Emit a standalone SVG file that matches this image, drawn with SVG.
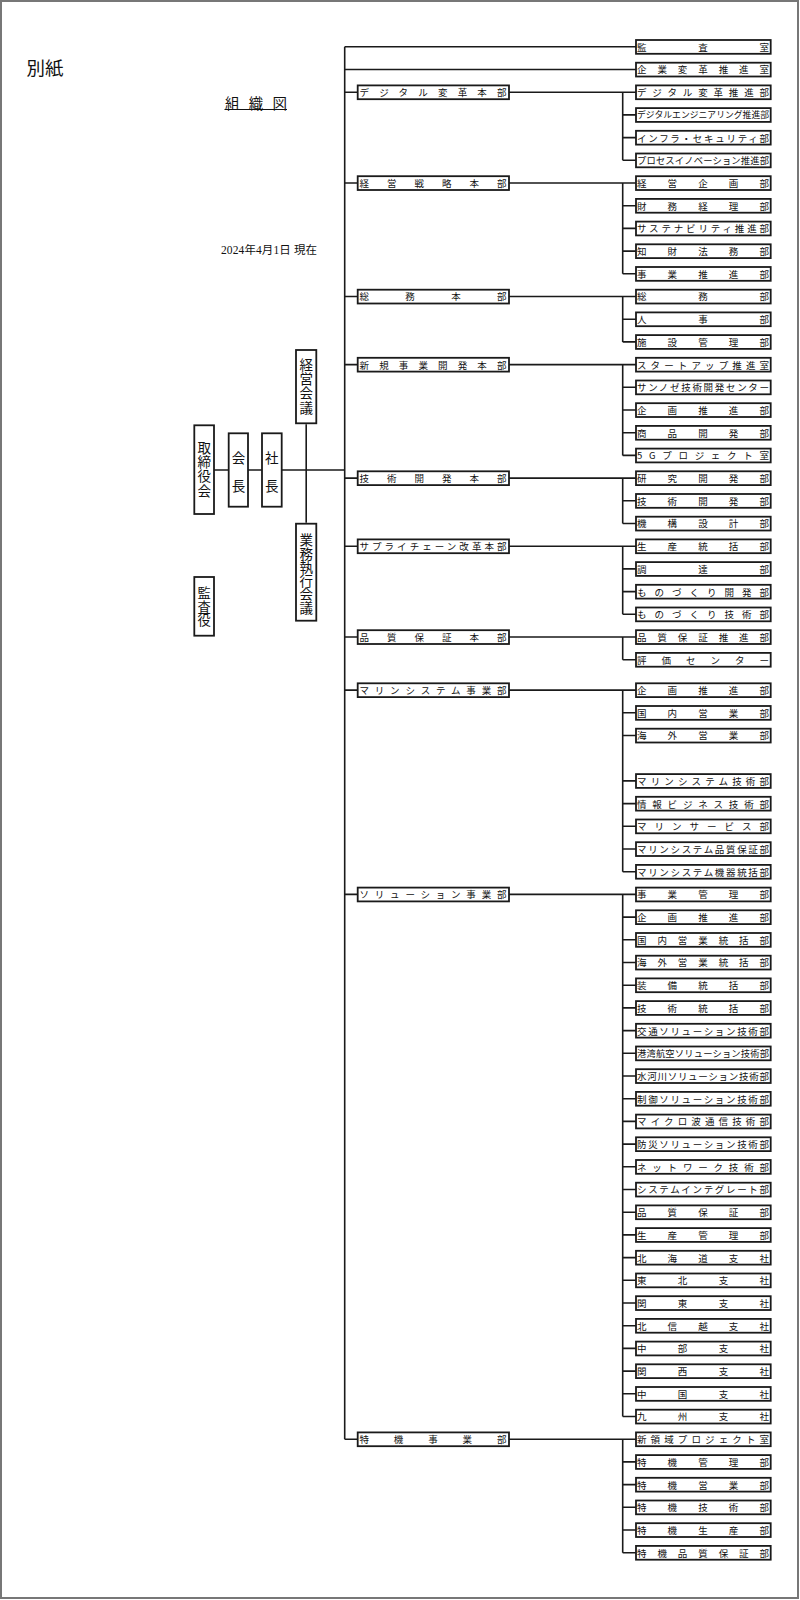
<svg xmlns="http://www.w3.org/2000/svg" width="800" height="1600" viewBox="0 0 800 1600">
<style>
.bg{fill:#fff;stroke:#777;stroke-width:2}
.rb,.lb,.vb{fill:#fff;stroke:#1a1a1a;stroke-width:1.8}
.rt,.lt{font-family:"Noto Sans CJK JP",sans-serif;font-size:9.5px;fill:#111;dominant-baseline:central}
.vt{font-family:"Noto Sans CJK JP",sans-serif;font-size:13.5px;fill:#111;text-anchor:middle;writing-mode:vertical-rl}
.ct{font-family:"Noto Sans CJK JP",sans-serif;font-size:13.5px;fill:#111;text-anchor:middle;dominant-baseline:central}
.ln{fill:none;stroke:#1a1a1a;stroke-width:1.6}
.hd{font-family:"Noto Sans CJK JP",sans-serif;fill:#111}
</style>
<rect class="bg" x="1" y="1" width="797" height="1597"/>
<g id="header">
<text class="hd" x="26.5" y="66.7" font-size="18.5" dominant-baseline="central">別紙</text>
<text class="hd" x="225" y="102.5" font-size="14.5" dominant-baseline="central" textLength="62">組織図</text>
<line x1="224.5" y1="109.5" x2="287" y2="109.5" stroke="#111" stroke-width="1"/>
<text x="221" y="250" font-family="Liberation Serif, Noto Sans CJK JP, serif" font-size="11.5" fill="#111" dominant-baseline="central" textLength="96">2024年4月1日 現在</text>
</g>
<g id="connectors" class="ln">
<path d="M344.7 46.8V1439.2M344.7 46.8H636M344.7 69.5H636"/>
<path d="M344.7 92.2H357.7M509 92.2H636M344.7 183H357.7M509 183H636M344.7 296.5H357.7M509 296.5H636M344.7 364.6H357.7M509 364.6H636M344.7 478.1H357.7M509 478.1H636M344.7 546.2H357.7M509 546.2H636M344.7 637H357.7M509 637H636M344.7 690.1H357.7M509 690.1H636M344.7 894.4H357.7M509 894.4H636M344.7 1439.2H357.7M509 1439.2H636"/>
<path d="M622.7 92.2V160.3M622.7 114.9h13.3M622.7 137.6h13.3M622.7 160.3h13.3"/>
<path d="M622.7 183V273.8M622.7 205.7h13.3M622.7 228.4h13.3M622.7 251.1h13.3M622.7 273.8h13.3"/>
<path d="M622.7 296.5V341.9M622.7 319.2h13.3M622.7 341.9h13.3"/>
<path d="M622.7 364.6V455.4M622.7 387.3h13.3M622.7 410h13.3M622.7 432.7h13.3M622.7 455.4h13.3"/>
<path d="M622.7 478.1V523.5M622.7 500.8h13.3M622.7 523.5h13.3"/>
<path d="M622.7 546.2V614.3M622.7 568.9h13.3M622.7 591.6h13.3M622.7 614.3h13.3"/>
<path d="M622.7 637V659.7M622.7 659.7h13.3"/>
<path d="M622.7 690.1V871.7M622.7 712.8h13.3M622.7 735.5h13.3M622.7 780.9h13.3M622.7 803.6h13.3M622.7 826.3h13.3M622.7 849h13.3M622.7 871.7h13.3"/>
<path d="M622.7 894.4V1416.5M622.7 917.1h13.3M622.7 939.8h13.3M622.7 962.5h13.3M622.7 985.2h13.3M622.7 1007.9h13.3M622.7 1030.6h13.3M622.7 1053.3h13.3M622.7 1076h13.3M622.7 1098.7h13.3M622.7 1121.4h13.3M622.7 1144.1h13.3M622.7 1166.8h13.3M622.7 1189.5h13.3M622.7 1212.2h13.3M622.7 1234.9h13.3M622.7 1257.6h13.3M622.7 1280.3h13.3M622.7 1303h13.3M622.7 1325.7h13.3M622.7 1348.4h13.3M622.7 1371.1h13.3M622.7 1393.8h13.3M622.7 1416.5h13.3"/>
<path d="M622.7 1439.2V1552.7M622.7 1461.9h13.3M622.7 1484.6h13.3M622.7 1507.3h13.3M622.7 1530h13.3M622.7 1552.7h13.3"/>
<path d="M214 470H344.7M306.2 424.3V522.7"/>
</g>
<g id="torishimariyakukai"><rect class="vb" x="194.3" y="425.3" width="19.7" height="88.7"/><text class="vt" x="204.2" y="469.6" letter-spacing="0.7">取締役会</text></g>
<g id="kaicho"><rect class="vb" x="228.7" y="433.3" width="19.3" height="73.4"/><text class="ct" x="238.4" y="456.7">会</text><text class="ct" x="238.4" y="484.5">長</text></g>
<g id="shacho"><rect class="vb" x="262" y="433.3" width="19.7" height="73.4"/><text class="ct" x="271.8" y="456.7">社</text><text class="ct" x="271.8" y="484.5">長</text></g>
<g id="keiei-kaigi"><rect class="vb" x="296" y="350" width="20.3" height="73.3"/><text class="vt" x="306.2" y="386.6" letter-spacing="0.6">経営会議</text></g>
<g id="gyomu-shikko-kaigi"><rect class="vb" x="296" y="523.7" width="20.3" height="97"/><text class="vt" x="306.2" y="573.9">業務執行会議</text></g>
<g id="kansayaku"><rect class="vb" x="194.3" y="577" width="19.7" height="58.7"/><text class="vt" x="204.2" y="606.7" style="font-size:13.3px">監査役</text></g>
<g id="h1" transform="translate(357.7,84.4)"><rect class="lb" y="1" width="151.3" height="13.8"/><text class="lt" x="1.8" y="7.8" textLength="147">デジタル変革本部</text></g>
<g id="h2" transform="translate(357.7,175.2)"><rect class="lb" y="1" width="151.3" height="13.8"/><text class="lt" x="1.8" y="7.8" textLength="147">経営戦略本部</text></g>
<g id="h3" transform="translate(357.7,288.7)"><rect class="lb" y="1" width="151.3" height="13.8"/><text class="lt" x="1.8" y="7.8" textLength="147">総務本部</text></g>
<g id="h4" transform="translate(357.7,356.8)"><rect class="lb" y="1" width="151.3" height="13.8"/><text class="lt" x="1.8" y="7.8" textLength="147">新規事業開発本部</text></g>
<g id="h5" transform="translate(357.7,470.3)"><rect class="lb" y="1" width="151.3" height="13.8"/><text class="lt" x="1.8" y="7.8" textLength="147">技術開発本部</text></g>
<g id="h6" transform="translate(357.7,538.4)"><rect class="lb" y="1" width="151.3" height="13.8"/><text class="lt" x="1.8" y="7.8" textLength="147">サプライチェーン改革本部</text></g>
<g id="h7" transform="translate(357.7,629.2)"><rect class="lb" y="1" width="151.3" height="13.8"/><text class="lt" x="1.8" y="7.8" textLength="147">品質保証本部</text></g>
<g id="h8" transform="translate(357.7,682.3)"><rect class="lb" y="1" width="151.3" height="13.8"/><text class="lt" x="1.8" y="7.8" textLength="147">マリンシステム事業部</text></g>
<g id="h9" transform="translate(357.7,886.6)"><rect class="lb" y="1" width="151.3" height="13.8"/><text class="lt" x="1.8" y="7.8" textLength="147">ソリューション事業部</text></g>
<g id="h10" transform="translate(357.7,1431.4)"><rect class="lb" y="1" width="151.3" height="13.8"/><text class="lt" x="1.8" y="7.8" textLength="147">特機事業部</text></g>
<g id="r0" transform="translate(636,39)"><rect class="rb" y="1" width="134.7" height="13.8"/><text class="rt" x="1" y="7.8" textLength="132">監査室</text></g>
<g id="r1" transform="translate(636,61.7)"><rect class="rb" y="1" width="134.7" height="13.8"/><text class="rt" x="1" y="7.8" textLength="132">企業変革推進室</text></g>
<g id="r2" transform="translate(636,84.4)"><rect class="rb" y="1" width="134.7" height="13.8"/><text class="rt" x="1" y="7.8" textLength="132">デジタル変革推進部</text></g>
<g id="r3" transform="translate(636,107.1)"><rect class="rb" y="1" width="134.7" height="13.8"/><text class="rt" x="1" y="7.8" textLength="132" style="font-size:8.8px">デジタルエンジニアリング推進部</text></g>
<g id="r4" transform="translate(636,129.8)"><rect class="rb" y="1" width="134.7" height="13.8"/><text class="rt" x="1" y="7.8" textLength="132">インフラ・セキュリティ部</text></g>
<g id="r5" transform="translate(636,152.5)"><rect class="rb" y="1" width="134.7" height="13.8"/><text class="rt" x="1" y="7.8" textLength="132" style="font-size:9.3px">プロセスイノベーション推進部</text></g>
<g id="r6" transform="translate(636,175.2)"><rect class="rb" y="1" width="134.7" height="13.8"/><text class="rt" x="1" y="7.8" textLength="132">経営企画部</text></g>
<g id="r7" transform="translate(636,197.9)"><rect class="rb" y="1" width="134.7" height="13.8"/><text class="rt" x="1" y="7.8" textLength="132">財務経理部</text></g>
<g id="r8" transform="translate(636,220.6)"><rect class="rb" y="1" width="134.7" height="13.8"/><text class="rt" x="1" y="7.8" textLength="132">サステナビリティ推進部</text></g>
<g id="r9" transform="translate(636,243.3)"><rect class="rb" y="1" width="134.7" height="13.8"/><text class="rt" x="1" y="7.8" textLength="132">知財法務部</text></g>
<g id="r10" transform="translate(636,266)"><rect class="rb" y="1" width="134.7" height="13.8"/><text class="rt" x="1" y="7.8" textLength="132">事業推進部</text></g>
<g id="r11" transform="translate(636,288.7)"><rect class="rb" y="1" width="134.7" height="13.8"/><text class="rt" x="1" y="7.8" textLength="132">総務部</text></g>
<g id="r12" transform="translate(636,311.4)"><rect class="rb" y="1" width="134.7" height="13.8"/><text class="rt" x="1" y="7.8" textLength="132">人事部</text></g>
<g id="r13" transform="translate(636,334.1)"><rect class="rb" y="1" width="134.7" height="13.8"/><text class="rt" x="1" y="7.8" textLength="132">施設管理部</text></g>
<g id="r14" transform="translate(636,356.8)"><rect class="rb" y="1" width="134.7" height="13.8"/><text class="rt" x="1" y="7.8" textLength="132">スタートアップ推進室</text></g>
<g id="r15" transform="translate(636,379.5)"><rect class="rb" y="1" width="134.7" height="13.8"/><text class="rt" x="1" y="7.8" textLength="132">サンノゼ技術開発センター</text></g>
<g id="r16" transform="translate(636,402.2)"><rect class="rb" y="1" width="134.7" height="13.8"/><text class="rt" x="1" y="7.8" textLength="132">企画推進部</text></g>
<g id="r17" transform="translate(636,424.9)"><rect class="rb" y="1" width="134.7" height="13.8"/><text class="rt" x="1" y="7.8" textLength="132">商品開発部</text></g>
<g id="r18" transform="translate(636,447.6)"><rect class="rb" y="1" width="134.7" height="13.8"/><text class="rt" x="1" y="7.8" textLength="132">5Gプロジェクト室</text></g>
<g id="r19" transform="translate(636,470.3)"><rect class="rb" y="1" width="134.7" height="13.8"/><text class="rt" x="1" y="7.8" textLength="132">研究開発部</text></g>
<g id="r20" transform="translate(636,493)"><rect class="rb" y="1" width="134.7" height="13.8"/><text class="rt" x="1" y="7.8" textLength="132">技術開発部</text></g>
<g id="r21" transform="translate(636,515.7)"><rect class="rb" y="1" width="134.7" height="13.8"/><text class="rt" x="1" y="7.8" textLength="132">機構設計部</text></g>
<g id="r22" transform="translate(636,538.4)"><rect class="rb" y="1" width="134.7" height="13.8"/><text class="rt" x="1" y="7.8" textLength="132">生産統括部</text></g>
<g id="r23" transform="translate(636,561.1)"><rect class="rb" y="1" width="134.7" height="13.8"/><text class="rt" x="1" y="7.8" textLength="132">調達部</text></g>
<g id="r24" transform="translate(636,583.8)"><rect class="rb" y="1" width="134.7" height="13.8"/><text class="rt" x="1" y="7.8" textLength="132">ものづくり開発部</text></g>
<g id="r25" transform="translate(636,606.5)"><rect class="rb" y="1" width="134.7" height="13.8"/><text class="rt" x="1" y="7.8" textLength="132">ものづくり技術部</text></g>
<g id="r26" transform="translate(636,629.2)"><rect class="rb" y="1" width="134.7" height="13.8"/><text class="rt" x="1" y="7.8" textLength="132">品質保証推進部</text></g>
<g id="r27" transform="translate(636,651.9)"><rect class="rb" y="1" width="134.7" height="13.8"/><text class="rt" x="1" y="7.8" textLength="132">評価センター</text></g>
<g id="m0" transform="translate(636,682.3)"><rect class="rb" y="1" width="134.7" height="13.8"/><text class="rt" x="1" y="7.8" textLength="132">企画推進部</text></g>
<g id="m1" transform="translate(636,705)"><rect class="rb" y="1" width="134.7" height="13.8"/><text class="rt" x="1" y="7.8" textLength="132">国内営業部</text></g>
<g id="m2" transform="translate(636,727.7)"><rect class="rb" y="1" width="134.7" height="13.8"/><text class="rt" x="1" y="7.8" textLength="132">海外営業部</text></g>
<g id="m4" transform="translate(636,773.1)"><rect class="rb" y="1" width="134.7" height="13.8"/><text class="rt" x="1" y="7.8" textLength="132">マリンシステム技術部</text></g>
<g id="m5" transform="translate(636,795.8)"><rect class="rb" y="1" width="134.7" height="13.8"/><text class="rt" x="1" y="7.8" textLength="132">情報ビジネス技術部</text></g>
<g id="m6" transform="translate(636,818.5)"><rect class="rb" y="1" width="134.7" height="13.8"/><text class="rt" x="1" y="7.8" textLength="132">マリンサービス部</text></g>
<g id="m7" transform="translate(636,841.2)"><rect class="rb" y="1" width="134.7" height="13.8"/><text class="rt" x="1" y="7.8" textLength="132">マリンシステム品質保証部</text></g>
<g id="m8" transform="translate(636,863.9)"><rect class="rb" y="1" width="134.7" height="13.8"/><text class="rt" x="1" y="7.8" textLength="132">マリンシステム機器統括部</text></g>
<g id="m9" transform="translate(636,886.6)"><rect class="rb" y="1" width="134.7" height="13.8"/><text class="rt" x="1" y="7.8" textLength="132">事業管理部</text></g>
<g id="m10" transform="translate(636,909.3)"><rect class="rb" y="1" width="134.7" height="13.8"/><text class="rt" x="1" y="7.8" textLength="132">企画推進部</text></g>
<g id="m11" transform="translate(636,932)"><rect class="rb" y="1" width="134.7" height="13.8"/><text class="rt" x="1" y="7.8" textLength="132">国内営業統括部</text></g>
<g id="m12" transform="translate(636,954.7)"><rect class="rb" y="1" width="134.7" height="13.8"/><text class="rt" x="1" y="7.8" textLength="132">海外営業統括部</text></g>
<g id="m13" transform="translate(636,977.4)"><rect class="rb" y="1" width="134.7" height="13.8"/><text class="rt" x="1" y="7.8" textLength="132">装備統括部</text></g>
<g id="m14" transform="translate(636,1000.1)"><rect class="rb" y="1" width="134.7" height="13.8"/><text class="rt" x="1" y="7.8" textLength="132">技術統括部</text></g>
<g id="m15" transform="translate(636,1022.8)"><rect class="rb" y="1" width="134.7" height="13.8"/><text class="rt" x="1" y="7.8" textLength="132">交通ソリューション技術部</text></g>
<g id="m16" transform="translate(636,1045.5)"><rect class="rb" y="1" width="134.7" height="13.8"/><text class="rt" x="1" y="7.8" textLength="132" style="font-size:9.3px">港湾航空ソリューション技術部</text></g>
<g id="m17" transform="translate(636,1068.2)"><rect class="rb" y="1" width="134.7" height="13.8"/><text class="rt" x="1" y="7.8" textLength="132">水河川ソリューション技術部</text></g>
<g id="m18" transform="translate(636,1090.9)"><rect class="rb" y="1" width="134.7" height="13.8"/><text class="rt" x="1" y="7.8" textLength="132">制御ソリューション技術部</text></g>
<g id="m19" transform="translate(636,1113.6)"><rect class="rb" y="1" width="134.7" height="13.8"/><text class="rt" x="1" y="7.8" textLength="132">マイクロ波通信技術部</text></g>
<g id="m20" transform="translate(636,1136.3)"><rect class="rb" y="1" width="134.7" height="13.8"/><text class="rt" x="1" y="7.8" textLength="132">防災ソリューション技術部</text></g>
<g id="m21" transform="translate(636,1159)"><rect class="rb" y="1" width="134.7" height="13.8"/><text class="rt" x="1" y="7.8" textLength="132">ネットワーク技術部</text></g>
<g id="m22" transform="translate(636,1181.7)"><rect class="rb" y="1" width="134.7" height="13.8"/><text class="rt" x="1" y="7.8" textLength="132">システムインテグレート部</text></g>
<g id="m23" transform="translate(636,1204.4)"><rect class="rb" y="1" width="134.7" height="13.8"/><text class="rt" x="1" y="7.8" textLength="132">品質保証部</text></g>
<g id="m24" transform="translate(636,1227.1)"><rect class="rb" y="1" width="134.7" height="13.8"/><text class="rt" x="1" y="7.8" textLength="132">生産管理部</text></g>
<g id="m25" transform="translate(636,1249.8)"><rect class="rb" y="1" width="134.7" height="13.8"/><text class="rt" x="1" y="7.8" textLength="132">北海道支社</text></g>
<g id="m26" transform="translate(636,1272.5)"><rect class="rb" y="1" width="134.7" height="13.8"/><text class="rt" x="1" y="7.8" textLength="132">東北支社</text></g>
<g id="m27" transform="translate(636,1295.2)"><rect class="rb" y="1" width="134.7" height="13.8"/><text class="rt" x="1" y="7.8" textLength="132">関東支社</text></g>
<g id="m28" transform="translate(636,1317.9)"><rect class="rb" y="1" width="134.7" height="13.8"/><text class="rt" x="1" y="7.8" textLength="132">北信越支社</text></g>
<g id="m29" transform="translate(636,1340.6)"><rect class="rb" y="1" width="134.7" height="13.8"/><text class="rt" x="1" y="7.8" textLength="132">中部支社</text></g>
<g id="m30" transform="translate(636,1363.3)"><rect class="rb" y="1" width="134.7" height="13.8"/><text class="rt" x="1" y="7.8" textLength="132">関西支社</text></g>
<g id="m31" transform="translate(636,1386)"><rect class="rb" y="1" width="134.7" height="13.8"/><text class="rt" x="1" y="7.8" textLength="132">中国支社</text></g>
<g id="m32" transform="translate(636,1408.7)"><rect class="rb" y="1" width="134.7" height="13.8"/><text class="rt" x="1" y="7.8" textLength="132">九州支社</text></g>
<g id="m33" transform="translate(636,1431.4)"><rect class="rb" y="1" width="134.7" height="13.8"/><text class="rt" x="1" y="7.8" textLength="132">新領域プロジェクト室</text></g>
<g id="m34" transform="translate(636,1454.1)"><rect class="rb" y="1" width="134.7" height="13.8"/><text class="rt" x="1" y="7.8" textLength="132">特機管理部</text></g>
<g id="m35" transform="translate(636,1476.8)"><rect class="rb" y="1" width="134.7" height="13.8"/><text class="rt" x="1" y="7.8" textLength="132">特機営業部</text></g>
<g id="m36" transform="translate(636,1499.5)"><rect class="rb" y="1" width="134.7" height="13.8"/><text class="rt" x="1" y="7.8" textLength="132">特機技術部</text></g>
<g id="m37" transform="translate(636,1522.2)"><rect class="rb" y="1" width="134.7" height="13.8"/><text class="rt" x="1" y="7.8" textLength="132">特機生産部</text></g>
<g id="m38" transform="translate(636,1544.9)"><rect class="rb" y="1" width="134.7" height="13.8"/><text class="rt" x="1" y="7.8" textLength="132">特機品質保証部</text></g>
</svg>
